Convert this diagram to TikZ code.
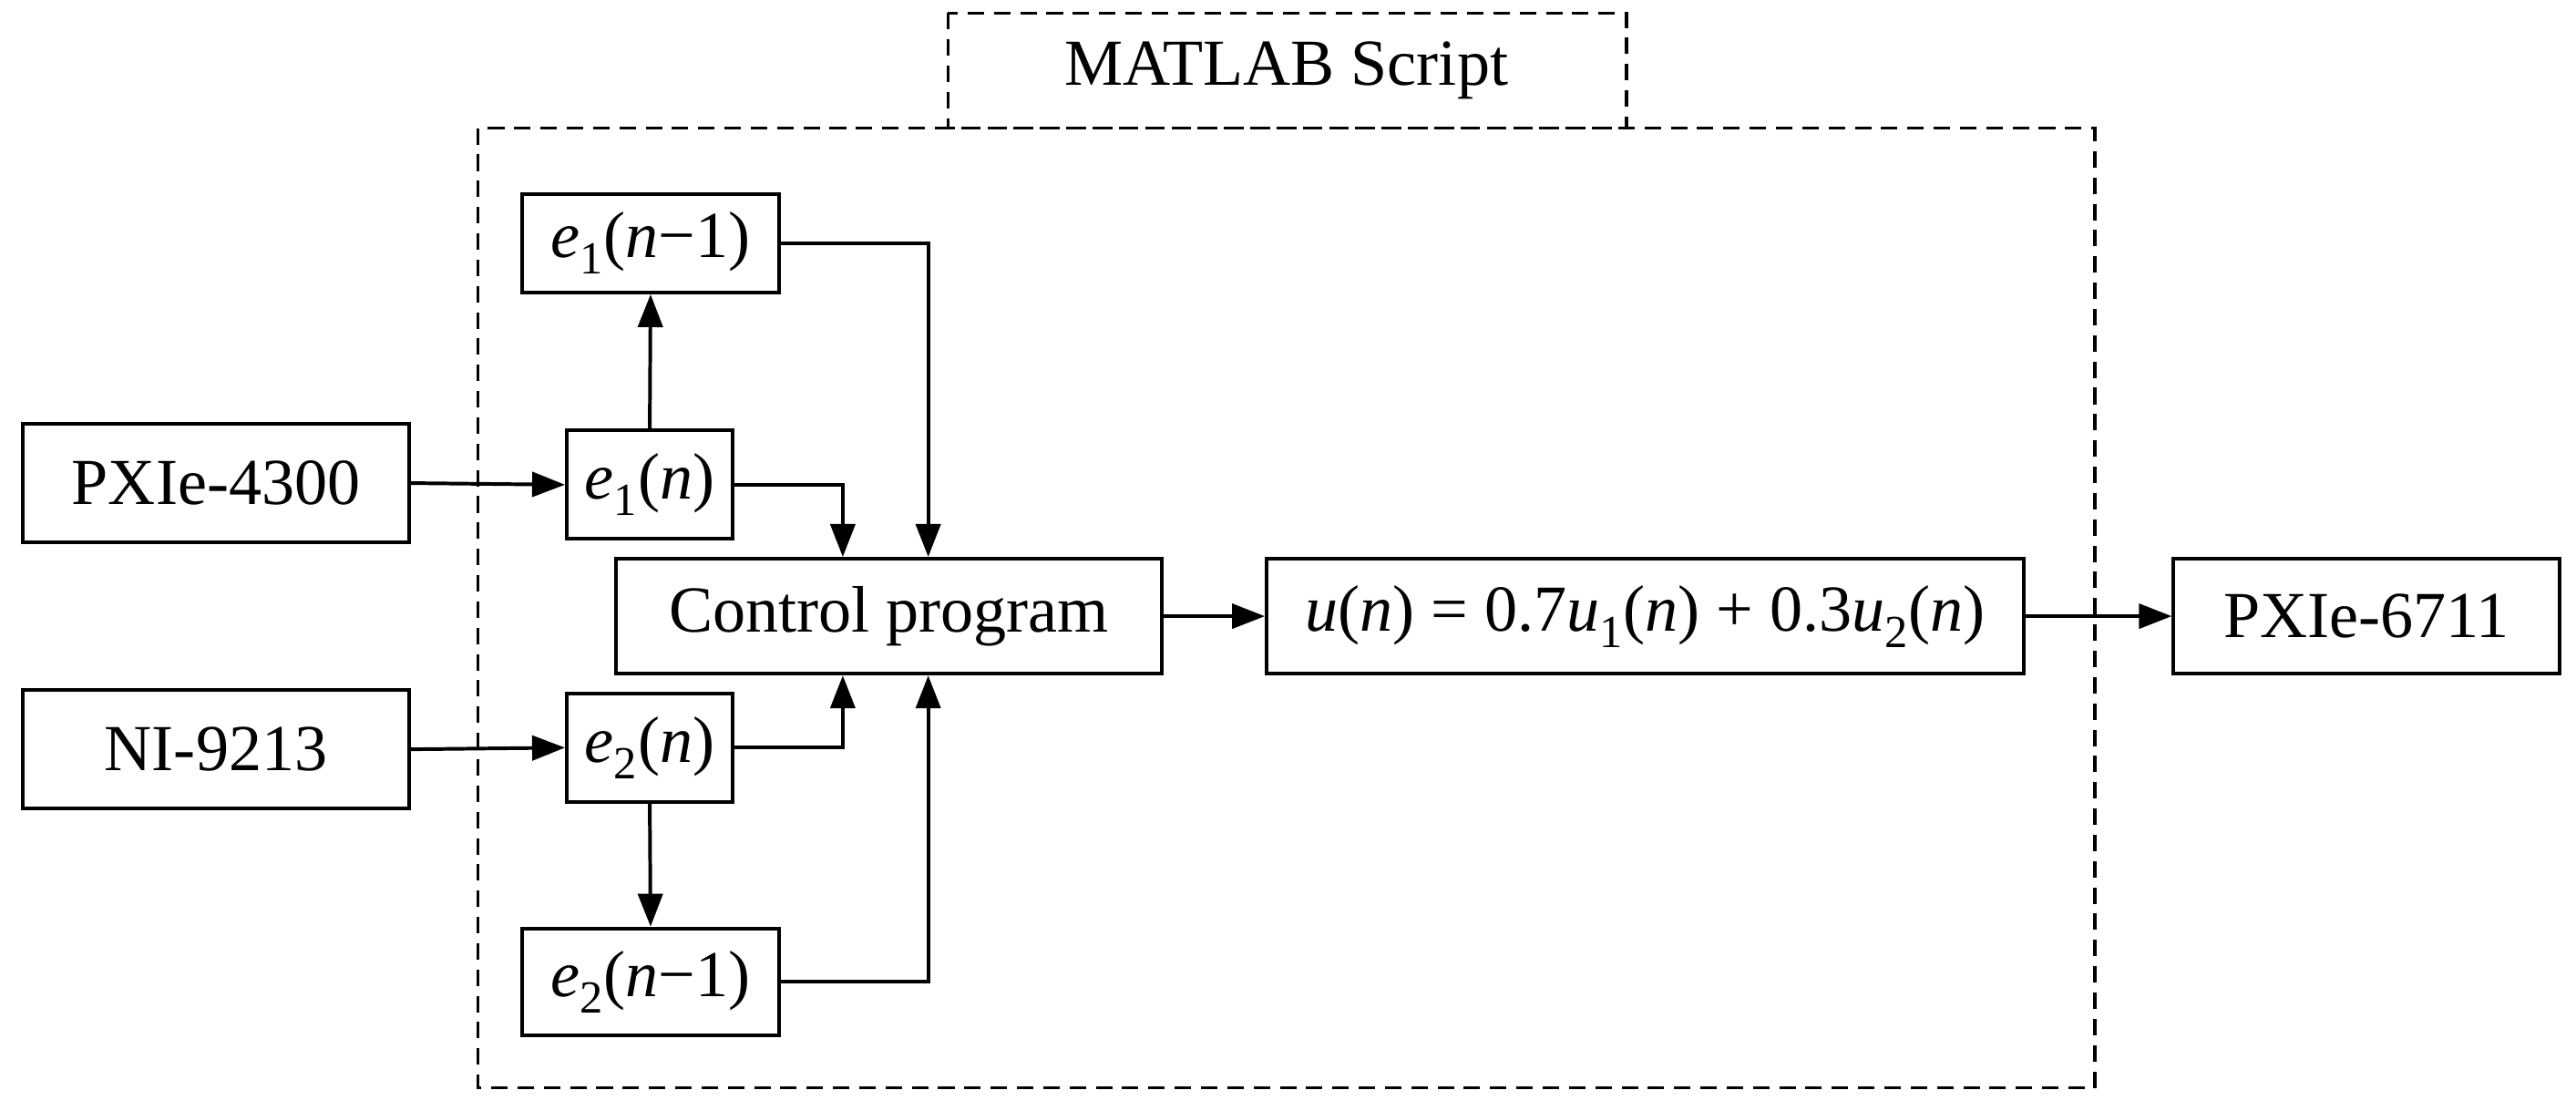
\documentclass[tikz,border=0pt]{standalone}
\usepackage{fontspec}
\setmainfont{Liberation Serif}
\usetikzlibrary{arrows.meta}
\newcommand{\ee}[1]{\textit{e}\textsubscript{#1}}
\begin{document}
\begin{tikzpicture}[x=1pt,y=-1pt,
  box/.style={draw,line width=2.2pt,inner sep=0pt,font=\fontsize{40}{44}\selectfont},
  dbox/.style={draw,line width=2pt,dash pattern=on 10pt off 6pt},
  ar/.style={line width=2.2pt,-{Triangle[length=20pt,width=15pt]}},
  ln/.style={line width=2.2pt}]
\useasboundingbox (0,0) rectangle (1568,676);
\draw[dbox] (577,8) rectangle (990,78);
\node[font=\fontsize{40}{44}\selectfont] (ms) at (783,43) {MATLAB Script};
\draw[dbox] (291,78) rectangle (1275,662);
\node[box,minimum width=156pt,minimum height=60pt] (e1p) at (396,148) {\ee{1}(\textit{n}−1)};
\node[box,minimum width=101pt,minimum height=66pt] (e1) at (395.5,295) {\ee{1}(\textit{n})};
\node[box,minimum width=235pt,minimum height=72pt] (px1) at (131.5,294) {PXIe-4300};
\node[box,minimum width=332pt,minimum height=70pt] (cp) at (541,375) {Control program};
\node[box,minimum width=461pt,minimum height=70pt] (u) at (1001.5,375) {\textit{u}(\textit{n}) = 0.7\textit{u}\textsubscript{1}(\textit{n}) + 0.3\textit{u}\textsubscript{2}(\textit{n})};
\node[box,minimum width=235pt,minimum height=70pt] (px2) at (1440.5,375) {PXIe-6711};
\node[box,minimum width=235pt,minimum height=72pt] (ni) at (131.5,456) {NI-9213};
\node[box,minimum width=101pt,minimum height=66pt] (e2) at (395.5,455) {\ee{2}(\textit{n})};
\node[box,minimum width=156pt,minimum height=65pt] (e2p) at (396,597.5) {\ee{2}(\textit{n}−1)};
\draw[ar] (px1.east) -- (e1.west);
\draw[ar] (e1.north) -- (e1p.south);
\draw[ar] (e1p.east) -| (cp.north -| 565,0);
\draw[ar] (e1.east) -| (cp.north -| 513,0);
\draw[ar] (ni.east) -- (e2.west);
\draw[ar] (e2.east) -| (cp.south -| 513,0);
\draw[ar] (e2.south) -- (e2p.north);
\draw[ar] (e2p.east) -| (cp.south -| 565,0);
\draw[ar] (cp.east) -- (u.west);
\draw[ar] (u.east) -- (px2.west);
\end{tikzpicture}
\end{document}
